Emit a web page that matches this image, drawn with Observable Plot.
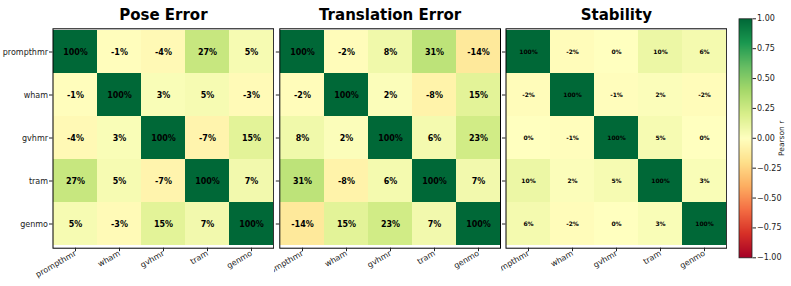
<!DOCTYPE html>
<html>
<head>
<meta charset="utf-8">
<script src="https://cdn.jsdelivr.net/npm/d3@7"></script>
<script src="https://cdn.jsdelivr.net/npm/@observablehq/plot@0.6"></script>
<style>
  body { margin: 0; background: white; }
  #chart { position: relative; width: 791px; height: 286px; overflow: hidden; font-family: "DejaVu Sans", sans-serif; }
  #chart > div { position: absolute; top: 0; }
</style>
</head>
<body>
<div id="chart"></div>
<script>
const models = ["prompthmr", "wham", "gvhmr", "tram", "genmo"];
const panelTitles = ["Pose Error", "Translation Error", "Stability"];

// correlation values in percent (rows x columns, same order as models)
const poseError = [
  [100, -1, -4, 27, 5],
  [-1, 100, 3, 5, -3],
  [-4, 3, 100, -7, 15],
  [27, 5, -7, 100, 7],
  [5, -3, 15, 7, 100]
];
const translationError = [
  [100, -2, 8, 31, -14],
  [-2, 100, 2, -8, 15],
  [8, 2, 100, 6, 23],
  [31, -8, 6, 100, 7],
  [-14, 15, 23, 7, 100]
];
const stability = [
  [100, -2, 0, 10, 6],
  [-2, 100, -1, 2, -2],
  [0, -1, 100, 5, 0],
  [10, 2, 5, 100, 3],
  [6, -2, 0, 3, 100]
];
const colorbarTicks = [-1, -0.75, -0.5, -0.25, 0, 0.25, 0.5, 0.75, 1];
const colorbarLabel = "Pearson r";

// matplotlib RdYlGn control colours
const rdylgn = ["#a50026", "#d73027", "#f46d43", "#fdae61", "#fee08b", "#ffffbf",
                "#d9ef8b", "#a6d96a", "#66bd63", "#1a9850", "#006837"];
const colorOpts = { type: "linear", domain: [-1, 1], interpolate: d3.piecewise(d3.interpolateRgb, rdylgn) };

function toTable(matrix) {
  return matrix.flatMap((row, i) => row.map((v, j) => ({ row: models[i], col: models[j], v })));
}

const layout = [
  { left: 0,     width: 274,   ml: 52.5, mr: 0.8, labels: true,  fs: 8 },
  { left: 274,   width: 226.5, ml: 5.3,  mr: 0.5, labels: false, fs: 8 },
  { left: 500.5, width: 226,   ml: 4.5,  mr: 0.8, labels: false, fs: 6 }
];
const matrices = [poseError, translationError, stability];

const chart = document.getElementById("chart");

matrices.forEach((m, i) => {
  const L = layout[i];
  const data = toTable(m);
  const p = Plot.plot({
    width: L.width,
    height: 286,
    marginLeft: L.ml,
    marginRight: L.mr,
    marginTop: 28.3,
    marginBottom: 38.3,
    style: { fontFamily: "DejaVu Sans", overflow: "hidden", background: "transparent", color: "#222" },
    x: { domain: models, padding: 0, label: null },
    y: { domain: models, padding: 0, label: null },
    color: colorOpts,
    marks: [
      Plot.cell(data, { x: "col", y: "row", fill: d => d.v / 100 }),
      Plot.text(data, { x: "col", y: "row", text: d => d.v + "%", fill: "black", fontWeight: "bold", fontSize: L.fs }),
      Plot.frame({ stroke: "black", strokeWidth: 1 }),
      Plot.axisX({ tickRotate: -30, tickSize: 3.5, tickPadding: 1, fontSize: 8, label: null }),
      Plot.axisY({ tickSize: 3.5, tickPadding: 1.5, fontSize: 8, label: null, tickFormat: L.labels ? d => d : () => "" }),
      Plot.text([panelTitles[i]], { text: d => d, frameAnchor: "top", dy: -8.5, lineAnchor: "bottom", fontSize: 15, fontWeight: "bold", fill: "black" })
    ]
  });
  const wrap = document.createElement("div");
  wrap.style.left = L.left + "px";
  wrap.appendChild(p);
  chart.appendChild(wrap);
});

// colour bar
const cb = Plot.plot({
  width: 64.5,
  height: 286,
  marginLeft: 11.5,
  marginRight: 40,
  marginTop: 18.3,
  marginBottom: 28.7,
  style: { fontFamily: "DejaVu Sans", overflow: "visible", background: "transparent", color: "#222" },
  x: { domain: [0, 1], axis: null },
  y: { domain: [-1, 1], label: null },
  color: colorOpts,
  marks: [
    Plot.raster({ x1: 0, x2: 1, y1: -1, y2: 1, width: 1, height: 240, fill: (x, y) => y }),
    Plot.frame({ stroke: "#222", strokeWidth: 0.8 }),
    Plot.axisY({ anchor: "right", ticks: colorbarTicks, tickFormat: d3.format(".2f"), tickSize: 3.5, tickPadding: 1.5, fontSize: 8, label: null }),
    Plot.text([colorbarLabel], { text: d => d, frameAnchor: "right", dx: 30, rotate: -90, textAnchor: "middle", lineAnchor: "middle", fontSize: 7.5, fill: "#222" })
  ]
});
const cbWrap = document.createElement("div");
cbWrap.style.left = "726.5px";
cbWrap.appendChild(cb);
chart.appendChild(cbWrap);
</script>
</body>
</html>
